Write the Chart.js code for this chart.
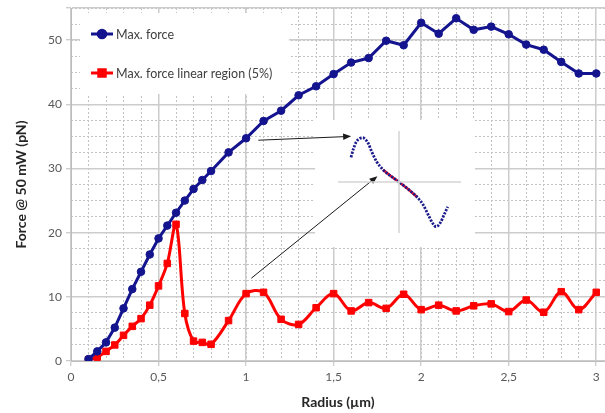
<!DOCTYPE html>
<html>
<head>
<meta charset="utf-8">
<script src="https://cdn.jsdelivr.net/npm/chart.js@4/dist/chart.umd.min.js"></script>
<style>
  html, body { margin: 0; padding: 0; background: #ffffff; }
  #wrap { position: relative; width: 605px; height: 413px; overflow: hidden; }
  #main { position: absolute; left: 0; top: 0; }
  #inset { position: absolute; pointer-events: none; }
</style>
</head>
<body>
<div id="wrap">
  <canvas id="main" width="605" height="413"></canvas>
  <canvas id="inset"></canvas>
</div>
<script>
// Trap radius (µm)
const radius = [0.1, 0.15, 0.2, 0.25, 0.3, 0.35, 0.4, 0.45, 0.5, 0.55, 0.6, 0.65, 0.7, 0.75, 0.8,
                0.9, 1.0, 1.1, 1.2, 1.3, 1.4, 1.5, 1.6, 1.7, 1.8, 1.9, 2.0, 2.1, 2.2, 2.3, 2.4,
                2.5, 2.6, 2.7, 2.8, 2.9, 3.0];
// Force at 50 mW (pN)
const maxForce = [0.3, 1.5, 2.9, 5.2, 8.2, 11.2, 13.9, 16.6, 19.1, 21.1, 23.1, 25.0, 26.8, 28.2, 29.6,
                  32.5, 34.7, 37.4, 39.0, 41.4, 42.8, 44.7, 46.5, 47.2, 49.9, 49.2, 52.7, 51.0, 53.4, 51.6, 52.1,
                  50.9, 49.3, 48.5, 46.6, 44.8, 44.8];
const maxForceLinear = [0.2, 0.6, 1.5, 2.5, 4.0, 5.4, 6.6, 8.7, 11.7, 15.2, 21.3, 7.4, 3.1, 2.9, 2.6,
                        6.3, 10.5, 10.7, 6.5, 5.7, 8.3, 10.5, 7.8, 9.1, 8.2, 10.4, 8.0, 8.7, 7.8, 8.6, 8.9,
                        7.7, 9.5, 7.6, 10.8, 8.0, 10.7];
const seriesNames = ['Max. force', 'Max. force linear region (5%)'];

const xTickValues = [0, 0.5, 1, 1.5, 2, 2.5, 3];
const xTickLabels = ['0', '0,5', '1', '1,5', '2', '2,5', '3'];
const yTickValues = [0, 10, 20, 30, 40, 50];
const yTickLabels = ['0', '10', '20', '30', '40', '50'];
const xMax = 3.05;
const yMax = 55;

// Sketch of the force profile across the trap (arbitrary units)
const profileX = [-48, -45.7, -43, -39.7, -36.3, -33.7, -30.7, -27.3, -22.3, -15.7, -7.3, 0,
                  9.3, 18.3, 24.3, 29.3, 33.7, 37, 41, 45, 48.7];
const profileY = [24.7, 32.7, 39.7, 43.3, 44.3, 42.7, 38.7, 30.3, 20.3, 12, 5.3, 0,
                  -7.3, -15.3, -23, -33, -41.3, -44.7, -41.3, -33, -24.7];
// Linear part of the profile
const linearX = [-16, -7.3, 0, 9.3, 18.3];
const linearY = [12.3, 5.3, 0, -7.3, -15.3];

// Callout arrows: [radius, force] start and end
const arrowStart = [[1.07, 34.4], [1.03, 12.9]];
const arrowEnd = [[1.6, 35.0], [1.75, 28.8]];

const BLUE = '#14148f';
const RED = '#ff0000';
const FONT = 'Lato, "Open Sans", sans-serif';

// layout boxes (canvas px)
const legendBox = { left: 80, top: 13, right: 289, bottom: 94 };
const insetBox = { left: 315, top: 120, width: 160, height: 127 };

function pts(xs, ys) { return xs.map((x, i) => ({ x: x, y: ys[i] })); }

function noEdgePadding(s) {
  s.paddingTop = 0; s.paddingBottom = 0; s.paddingLeft = 0; s.paddingRight = 0;
}

const backgroundsPlugin = {
  id: 'panelBackgrounds',
  beforeDatasetsDraw(chart) {
    const ctx = chart.ctx;
    ctx.save();
    ctx.fillStyle = '#ffffff';
    ctx.fillRect(legendBox.left, legendBox.top, legendBox.right - legendBox.left, legendBox.bottom - legendBox.top);
    ctx.fillRect(insetBox.left, insetBox.top, insetBox.width, insetBox.height);
    ctx.restore();
  }
};

const arrowsPlugin = {
  id: 'calloutArrows',
  afterDatasetsDraw(chart) {
    const ctx = chart.ctx;
    const sx = chart.scales.x, sy = chart.scales.y;
    ctx.save();
    ctx.strokeStyle = '#1a1a1a';
    ctx.fillStyle = '#1a1a1a';
    ctx.lineWidth = 1;
    arrowStart.forEach((s, i) => {
      const x1 = sx.getPixelForValue(s[0]), y1 = sy.getPixelForValue(s[1]);
      const x2 = sx.getPixelForValue(arrowEnd[i][0]), y2 = sy.getPixelForValue(arrowEnd[i][1]);
      const a = Math.atan2(y2 - y1, x2 - x1);
      const L = 8, W = 3.2;
      ctx.beginPath();
      ctx.moveTo(x1, y1);
      ctx.lineTo(x2 - L * 0.8 * Math.cos(a), y2 - L * 0.8 * Math.sin(a));
      ctx.stroke();
      ctx.beginPath();
      ctx.moveTo(x2, y2);
      ctx.lineTo(x2 - L * Math.cos(a) + W * Math.sin(a), y2 - L * Math.sin(a) - W * Math.cos(a));
      ctx.lineTo(x2 - L * Math.cos(a) - W * Math.sin(a), y2 - L * Math.sin(a) + W * Math.cos(a));
      ctx.closePath();
      ctx.fill();
    });
    ctx.restore();
  }
};

const legendPlugin = {
  id: 'insideLegend',
  afterDraw(chart) {
    const ctx = chart.ctx;
    const rows = [34, 73];
    ctx.save();
    chart.data.datasets.forEach((ds, i) => {
      if (i > 1) return;
      const y = rows[i];
      ctx.strokeStyle = ds.borderColor;
      ctx.lineWidth = 3;
      ctx.beginPath();
      ctx.moveTo(91, y);
      ctx.lineTo(113, y);
      ctx.stroke();
      ctx.fillStyle = ds.pointBackgroundColor;
      ctx.strokeStyle = ds.pointBorderColor;
      Chart.helpers.drawPoint(ctx, {
        pointStyle: ds.pointStyle, radius: ds.pointRadius, rotation: 0, borderWidth: 1
      }, 102, y);
      ctx.fillStyle = '#404040';
      ctx.font = '12.5px ' + FONT;
      ctx.textBaseline = 'middle';
      ctx.textAlign = 'left';
      ctx.fillText(ds.label, 116, y + 0.5);
    });
    ctx.restore();
  }
};

function build() {
  new Chart(document.getElementById('main'), {
    type: 'line',
    data: {
      datasets: [
        {
          label: seriesNames[0],
          data: pts(radius, maxForce),
          xAxisID: 'x', yAxisID: 'y',
          borderColor: BLUE, borderWidth: 3,
          pointStyle: 'circle', pointRadius: 3.8,
          pointBackgroundColor: BLUE, pointBorderColor: BLUE, pointBorderWidth: 1,
          tension: 0
        },
        {
          label: seriesNames[1],
          data: pts(radius, maxForceLinear),
          xAxisID: 'x', yAxisID: 'y',
          borderColor: RED, borderWidth: 3,
          pointStyle: 'rect', pointRadius: 4.6,
          pointBackgroundColor: RED, pointBorderColor: RED, pointBorderWidth: 1,
          tension: 0.35
        }
      ]
    },
    options: {
      responsive: false,
      animation: false,
      devicePixelRatio: 1,
      layout: { autoPadding: false, padding: { top: 8, right: 0, left: 0, bottom: 0 } },
      plugins: { legend: { display: false }, tooltip: { enabled: false } },
      scales: {
        x: {
          type: 'linear', position: 'bottom', min: 0, max: xMax,
          afterBuildTicks: s => { s.ticks = xTickValues.map(v => ({ value: v })); },
          afterFit: s => { s.height = 52; noEdgePadding(s); },
          ticks: {
            autoSkip: false, maxRotation: 0, padding: 4, color: '#595959',
            font: { family: FONT, size: 12 },
            callback: v => { const i = xTickValues.indexOf(v); return i < 0 ? '' : xTickLabels[i]; }
          },
          grid: { color: '#cccccc', lineWidth: 1.5, tickLength: 5, tickColor: '#bdbdbd', tickWidth: 1, z: -1 },
          border: { color: '#bdbdbd', width: 1 },
          title: {
            display: true, text: 'Radius (µm)', color: '#262626',
            font: { family: FONT, size: 14, weight: 'bold' }, padding: { top: 0, bottom: 2 }
          }
        },
        xMinor: {
          type: 'linear', axis: 'x', position: 'bottom', min: 0, max: xMax,
          afterFit: s => { s.height = 0; noEdgePadding(s); },
          ticks: { display: false, stepSize: 0.1 },
          grid: { color: '#c2c2c2', lineWidth: 1, drawTicks: false, z: -2 },
          border: { display: false, dash: [2, 2] }
        },
        y: {
          type: 'linear', position: 'left', min: 0, max: yMax,
          afterBuildTicks: s => { s.ticks = yTickValues.concat([yMax]).map(v => ({ value: v })); },
          afterFit: s => { s.width = 71; noEdgePadding(s); },
          ticks: {
            autoSkip: false, padding: 4, color: '#595959',
            font: { family: FONT, size: 12 },
            callback: v => { const i = yTickValues.indexOf(v); return i < 0 ? '' : yTickLabels[i]; }
          },
          grid: { color: '#cccccc', lineWidth: 1.5, tickLength: 5, tickColor: '#bdbdbd', tickWidth: 1, z: -1 },
          border: { color: '#bdbdbd', width: 1 },
          title: {
            display: true, text: 'Force @ 50 mW (pN)', color: '#262626',
            font: { family: FONT, size: 14, weight: 'bold' }, padding: { top: 13, bottom: 0 }
          }
        },
        yMinor: {
          type: 'linear', axis: 'y', position: 'left', min: 0, max: yMax,
          afterFit: s => { s.width = 0; noEdgePadding(s); },
          ticks: { display: false, stepSize: 2.5 },
          grid: { color: '#c2c2c2', lineWidth: 1, drawTicks: false, z: -2 },
          border: { display: false, dash: [2, 2] }
        }
      }
    },
    plugins: [backgroundsPlugin, arrowsPlugin, legendPlugin]
  });

  const ic = document.getElementById('inset');
  ic.width = insetBox.width; ic.height = insetBox.height;
  ic.style.left = insetBox.left + 'px';
  ic.style.top = insetBox.top + 'px';

  new Chart(ic, {
    type: 'scatter',
    data: {
      datasets: [
        { data: [{ x: -61, y: 0 }, { x: 62, y: 0 }], showLine: true, borderColor: '#d4d4d4', borderWidth: 1.5, pointRadius: 0 },
        { data: [{ x: 0, y: -51 }, { x: 0, y: 51 }], showLine: true, borderColor: '#d4d4d4', borderWidth: 1.5, pointRadius: 0 },
        {
          data: pts(profileX, profileY), showLine: true, borderColor: '#1c1c8c', borderWidth: 2.8,
          borderDash: [2.2, 1.3], cubicInterpolationMode: 'monotone', pointRadius: 0
        },
        {
          data: pts(linearX, linearY), showLine: true, borderColor: '#e8102a', borderWidth: 2.6,
          pointRadius: 0, tension: 0
        }
      ]
    },
    options: {
      responsive: false, animation: false, devicePixelRatio: 1,
      layout: { autoPadding: false, padding: 0 },
      plugins: { legend: { display: false }, tooltip: { enabled: false } },
      scales: {
        x: { type: 'linear', display: false, min: -84, max: 76 },
        y: { type: 'linear', display: false, min: -65, max: 62 }
      }
    }
  });
}

if (document.fonts && document.fonts.load) {
  Promise.all([
    document.fonts.load('12px Lato'),
    document.fonts.load('bold 14px Lato')
  ]).then(build, build);
} else {
  build();
}
</script>
</body>
</html>
